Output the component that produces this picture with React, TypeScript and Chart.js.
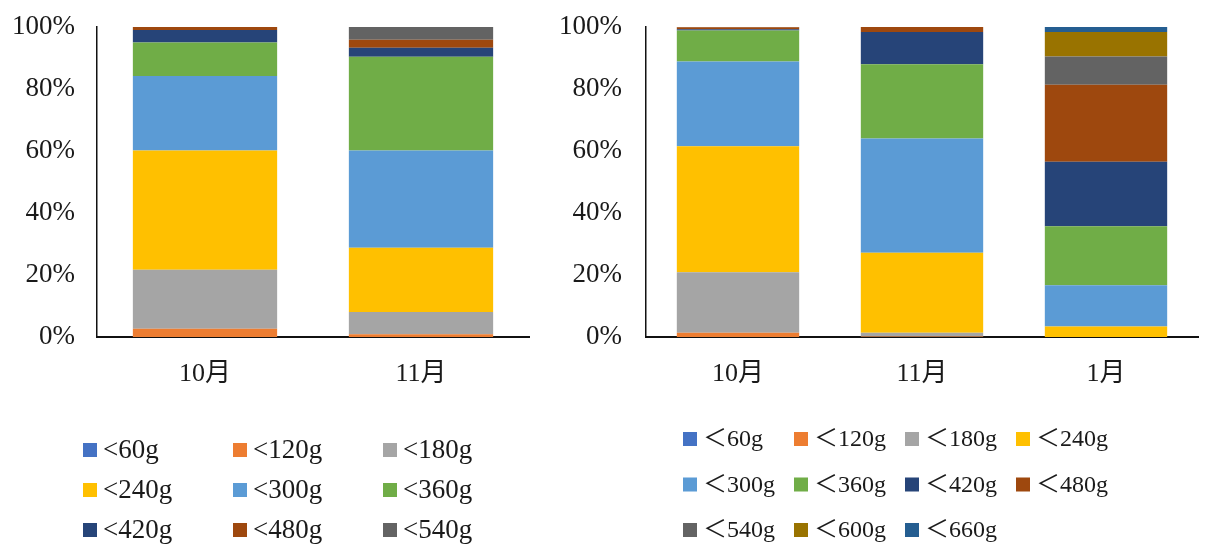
import React, { useEffect, useRef } from "react";
import { Chart, registerables } from "chart.js";

Chart.register(...registerables);

const leftCategories = ["10月", "11月"];
const rightCategories = ["10月", "11月", "1月"];

const leftLabels = ["<60g", "<120g", "<180g", "<240g", "<300g", "<360g", "<420g", "<480g", "<540g"];
const rightLabels = ["＜60g", "＜120g", "＜180g", "＜240g", "＜300g", "＜360g", "＜420g", "＜480g", "＜540g", "＜600g", "＜660g"];

const seriesColors = ["#4472C4", "#ED7D31", "#A5A5A5", "#FFC000", "#5B9BD5", "#70AD47", "#264478", "#9E480E", "#636363", "#997300", "#255E91"];

// Left chart values (10月, 11月)
const left60 = [0, 0];
const left120 = [2.7, 0.9];
const left180 = [19.0, 7.2];
const left240 = [38.5, 20.7];
const left300 = [24.0, 31.4];
const left360 = [10.8, 30.2];
const left420 = [4.0, 2.9];
const left480 = [1.0, 2.6];
const left540 = [0, 4.1];

// Right chart values (10月, 11月, 1月)
const right60 = [0, 0, 0];
const right120 = [1.4, 0.2, 0];
const right180 = [19.5, 1.2, 0];
const right240 = [40.6, 25.8, 3.4];
const right300 = [27.4, 36.8, 13.3];
const right360 = [10.0, 24.0, 19.0];
const right420 = [0.4, 10.4, 20.8];
const right480 = [0.6, 1.6, 24.9];
const right540 = [0.1, 0, 9.1];
const right600 = [0, 0, 7.9];
const right660 = [0, 0, 1.6];

const yTicks = [0, 20, 40, 60, 80, 100];

const leftSeries = [left60, left120, left180, left240, left300, left360, left420, left480, left540];
const rightSeries = [right60, right120, right180, right240, right300, right360, right420, right480, right540, right600, right660];

const FONT = "'Liberation Serif', 'Noto Sans CJK SC', serif";
const TEXT = "#1a1a1a";

type LegendLayout = {
  cols: number;
  x0: number;
  y0: number;
  colW: number;
  rowH: number;
  box: number;
  gap: number;
  size: number;
};

function gridLegend(labels: string[], lay: LegendLayout) {
  return {
    id: "gridLegend",
    afterDraw(chart: any) {
      const ctx = chart.ctx;
      const ca = chart.chartArea;
      ctx.save();
      ctx.font = `${lay.size}px ${FONT}`;
      ctx.textBaseline = "middle";
      ctx.textAlign = "left";
      labels.forEach((lab, i) => {
        const c = i % lay.cols;
        const r = Math.floor(i / lay.cols);
        const bx = ca.left + lay.x0 + c * lay.colW;
        const cy = lay.y0 + r * lay.rowH;
        ctx.fillStyle = seriesColors[i];
        ctx.fillRect(bx, cy - lay.box / 2, lay.box, lay.box);
        ctx.fillStyle = TEXT;
        ctx.fillText(lab, bx + lay.box + lay.gap, cy + 1);
      });
      ctx.restore();
    },
  };
}

function makeConfig(
  categories: string[],
  labels: string[],
  series: number[][],
  opts: { yWidth: number; tickPad: number; right: number; top: number; barPct: number; legend: LegendLayout }
) {
  return {
    type: "bar" as const,
    data: {
      labels: categories,
      datasets: series.map((vals, i) => ({
        label: labels[i],
        data: vals,
        backgroundColor: seriesColors[i],
        borderWidth: 0,
        barPercentage: opts.barPct,
        categoryPercentage: 1,
      })),
    },
    options: {
      responsive: false,
      animation: false,
      layout: { padding: { left: 0, right: opts.right, top: opts.top, bottom: 147 } },
      plugins: { legend: { display: false }, tooltip: { enabled: false } },
      scales: {
        x: {
          stacked: true,
          grid: { display: false, drawTicks: false },
          border: { display: true, color: "#111", width: 2 },
          ticks: { color: TEXT, font: { family: FONT, size: 26 }, padding: 22 },
          afterFit: (s: any) => {
            s.height = 60;
            s.paddingLeft = 0;
            s.paddingRight = 0;
          },
        },
        y: {
          stacked: true,
          min: 0,
          max: 100,
          afterBuildTicks: (s: any) => {
            s.ticks = yTicks.map((v) => ({ value: v }));
          },
          grid: { display: false, drawTicks: false },
          border: { display: true, color: "#111", width: 1.5 },
          ticks: {
            color: TEXT,
            font: { family: FONT, size: 27 },
            padding: opts.tickPad,
            callback: (v: any) => `${v}%`,
          },
          afterFit: (s: any) => {
            s.width = opts.yWidth;
            s.paddingTop = 0;
            s.paddingBottom = 0;
          },
        },
      },
    },
    plugins: [gridLegend(labels, opts.legend)],
  };
}

export default function App() {
  const leftRef = useRef<HTMLCanvasElement>(null);
  const rightRef = useRef<HTMLCanvasElement>(null);

  useEffect(() => {
    const c1 = new Chart(
      leftRef.current as HTMLCanvasElement,
      makeConfig(leftCategories, leftLabels, leftSeries, {
        yWidth: 97,
        tickPad: 22,
        right: 31,
        top: 27,
        barPct: 0.668,
        legend: { cols: 3, x0: -14, y0: 450, colW: 150, rowH: 40, box: 14, gap: 6, size: 27 },
      }) as any
    );
    const c2 = new Chart(
      rightRef.current as HTMLCanvasElement,
      makeConfig(rightCategories, rightLabels, rightSeries, {
        yWidth: 86,
        tickPad: 24,
        right: 16,
        top: 27,
        barPct: 0.665,
        legend: { cols: 4, x0: 37, y0: 439, colW: 111, rowH: 45.5, box: 14, gap: 6, size: 24 },
      }) as any
    );
    return () => {
      c1.destroy();
      c2.destroy();
    };
  }, []);

  return (
    <div style={{ position: "fixed", left: 0, top: 0, width: 1214, height: 544, background: "#fff" }}>
      <canvas ref={leftRef} width={560} height={544} style={{ position: "absolute", left: 0, top: 0, width: 560, height: 544 }} />
      <canvas ref={rightRef} width={654} height={544} style={{ position: "absolute", left: 560, top: 0, width: 654, height: 544 }} />
    </div>
  );
}
